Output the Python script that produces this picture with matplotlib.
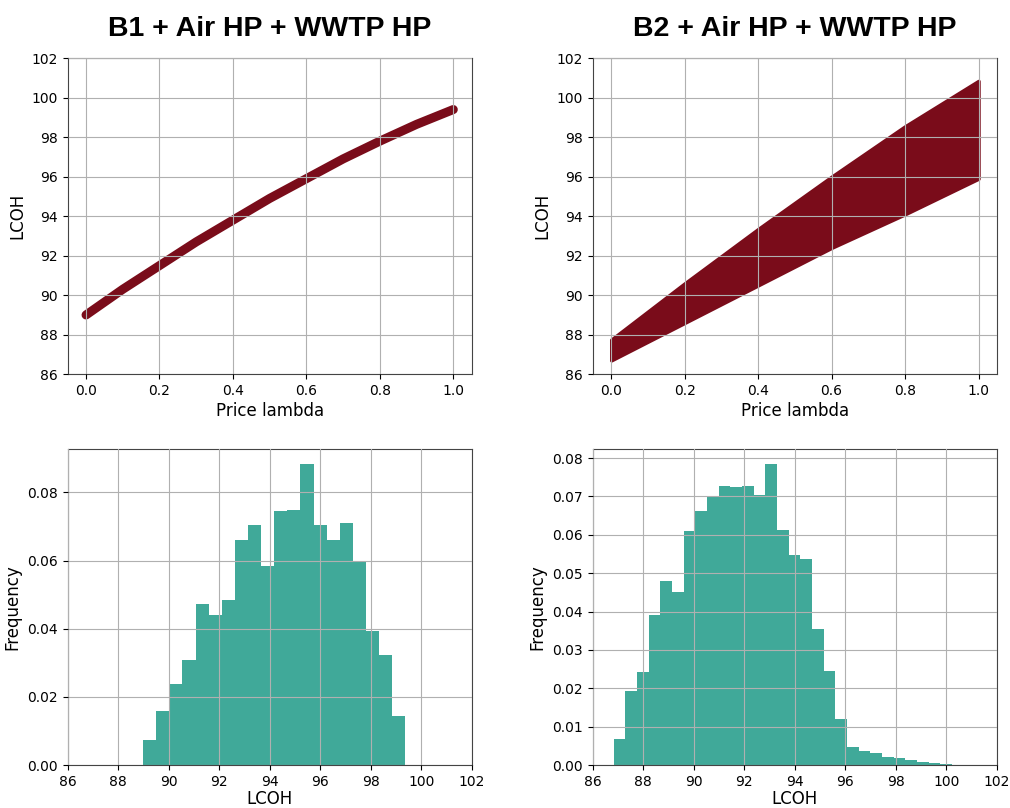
import numpy as np
import matplotlib
matplotlib.use("Agg")
import matplotlib.pyplot as plt

RED = "#7a0c1a"
TEAL = "#40a999"

# B1: LCOH vs price lambda (thin band)
lam_b1 = [0.0, 0.1, 0.2, 0.3, 0.4, 0.5, 0.6, 0.7, 0.8, 0.9, 1.0]
lcoh_b1 = [89.0, 90.3, 91.5, 92.7, 93.8, 94.9, 95.9, 96.9, 97.8, 98.65, 99.4]

# B2: LCOH vs price lambda (wide band, lower / upper edge)
lam_b2 = [0.0, 0.2, 0.4, 0.6, 0.8, 1.0]
low_b2 = [86.7, 88.6, 90.5, 92.4, 94.1, 95.9]
up_b2 = [87.75, 90.6, 93.35, 96.0, 98.55, 100.85]

# histogram B1: 20 bins
edges_b1 = np.linspace(88.99, 99.37, 21)
freq_b1 = [0.0075, 0.0159, 0.0237, 0.0309, 0.0473, 0.0442, 0.0485, 0.0660, 0.0705, 0.0585,
           0.0747, 0.0749, 0.0883, 0.0705, 0.0660, 0.0711, 0.0600, 0.0395, 0.0324, 0.0145]

# histogram B2: 30 bins
edges_b2 = np.linspace(86.82, 100.68, 31)
freq_b2 = [0.0068, 0.0194, 0.0243, 0.0392, 0.0480, 0.0451, 0.0609, 0.0661, 0.0698, 0.0726,
           0.0724, 0.0726, 0.0704, 0.0784, 0.0612, 0.0548, 0.0538, 0.0354, 0.0245, 0.0119,
           0.0048, 0.0036, 0.0031, 0.0022, 0.0019, 0.0013, 0.0009, 0.0005, 0.0004, 0.0001]

fig, axs = plt.subplots(2, 2, figsize=(10.1, 8.08), dpi=100)
fig.subplots_adjust(left=0.067, right=0.987, top=0.928, bottom=0.053,
                    wspace=0.3, hspace=0.237)

titles = ["B1 + Air HP + WWTP HP", "B2 + Air HP + WWTP HP"]

ax = axs[0, 0]
ax.plot(lam_b1, lcoh_b1, color=RED, lw=6.5, solid_capstyle="round")
ax = axs[0, 1]
ax.fill_between(lam_b2, low_b2, up_b2, color=RED, lw=2.5, edgecolor=RED)

for i in range(2):
    ax = axs[0, i]
    ax.set_ylim(86, 102)
    ax.set_yticks(range(86, 103, 2))
    ax.set_xlabel("Price lambda", fontsize=12, labelpad=3)
    ax.set_ylabel("LCOH", fontsize=12)
    ax.set_title(titles[i], fontsize=20.5, fontweight="bold",
                 family="Liberation Sans", pad=16)

for ax, edges, freq in [(axs[1, 0], edges_b1, freq_b1), (axs[1, 1], edges_b2, freq_b2)]:
    centers = (edges[:-1] + edges[1:]) / 2
    ax.hist(centers, bins=edges, weights=freq, color=TEAL)
    ax.set_xlim(86, 102)
    ax.set_xticks(range(86, 103, 2))
    ax.set_xlabel("LCOH", fontsize=12, labelpad=1)
    ax.set_ylabel("Frequency", fontsize=12)

for ax in axs.flat:
    ax.grid(True)
    ax.set_axisbelow(False)
    for s in ax.spines.values():
        s.set_color("#444444")

plt.savefig("out.png")
